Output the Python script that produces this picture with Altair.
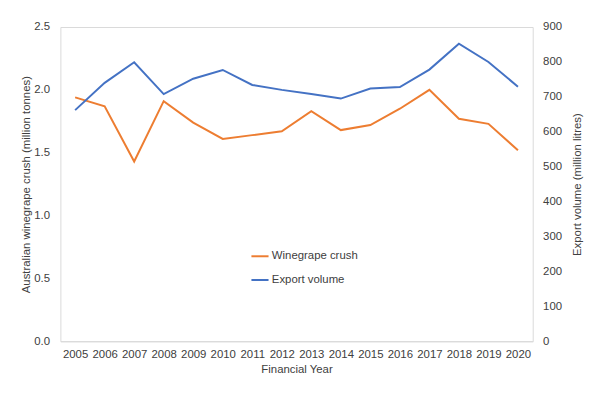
import altair as alt
import pandas as pd

years = [str(y) for y in range(2005, 2021)]
crush = [1.94, 1.87, 1.43, 1.91, 1.74, 1.61, 1.64, 1.67, 1.83, 1.68, 1.72, 1.85, 2.00, 1.77, 1.73, 1.52]
export = [662, 740, 799, 708, 752, 777, 734, 720, 708, 695, 724, 728, 778, 852, 800, 729]

df = pd.DataFrame({"year": years, "crush": crush, "export": export})

series_names = ["Winegrape crush", "Export volume"]
series_colors = ["#ED7D31", "#4472C4"]

font = "Liberation Sans"
color_scale = alt.Scale(domain=series_names, range=series_colors)

x = alt.X("year:O", title="Financial Year",
          scale=alt.Scale(type="point", padding=0.5),
          axis=alt.Axis(labelAngle=0, ticks=False, domain=True, domainColor="#d9d9d9",
                        labelPadding=7, titlePadding=4))

left = alt.Chart(df).mark_line(strokeWidth=2).encode(
    x=x,
    y=alt.Y("crush:Q", title="Australian winegrape crush (million tonnes)",
            scale=alt.Scale(domain=[0, 2.5]),
            axis=alt.Axis(values=[0, 0.5, 1.0, 1.5, 2.0, 2.5], format=".1f", ticks=False,
                          domain=False, grid=False, labelPadding=11, titlePadding=2)),
    color=alt.Color("s:N", scale=color_scale,
                    legend=alt.Legend(title=None, orient="none", legendX=192, legendY=222,
                                      symbolType="stroke", symbolSize=300, symbolStrokeWidth=2,
                                      labelFontSize=11.5, labelFont=font, labelColor="#404040",
                                      rowPadding=8, labelOffset=2)),
).transform_calculate(s="'Winegrape crush'")

right = alt.Chart(df).mark_line(strokeWidth=2).encode(
    x=x,
    y=alt.Y("export:Q", title="Export volume (million litres)",
            scale=alt.Scale(domain=[0, 900]),
            axis=alt.Axis(orient="right", values=list(range(0, 1000, 100)), ticks=False,
                          domain=False, grid=False, labelPadding=10, titlePadding=10,
                          titleAngle=270, titleBaseline="top")),
    color=alt.Color("s:N", scale=color_scale),
).transform_calculate(s="'Export volume'")

chart = alt.layer(left, right).resolve_scale(y="independent").properties(
    width=478, height=318,
    autosize=alt.AutoSizeParams(type="none"),
    padding={"left": 53, "top": 17, "right": 60, "bottom": 40},
).configure_view(stroke="#d9d9d9", strokeWidth=1).configure_axis(
    labelFont=font, titleFont=font, labelFontSize=11.5, titleFontSize=11.5,
    labelColor="#404040", titleColor="#404040", titleFontWeight="normal", grid=False
)

chart.save("out.html", embed_options={"renderer": "svg", "actions": False})
